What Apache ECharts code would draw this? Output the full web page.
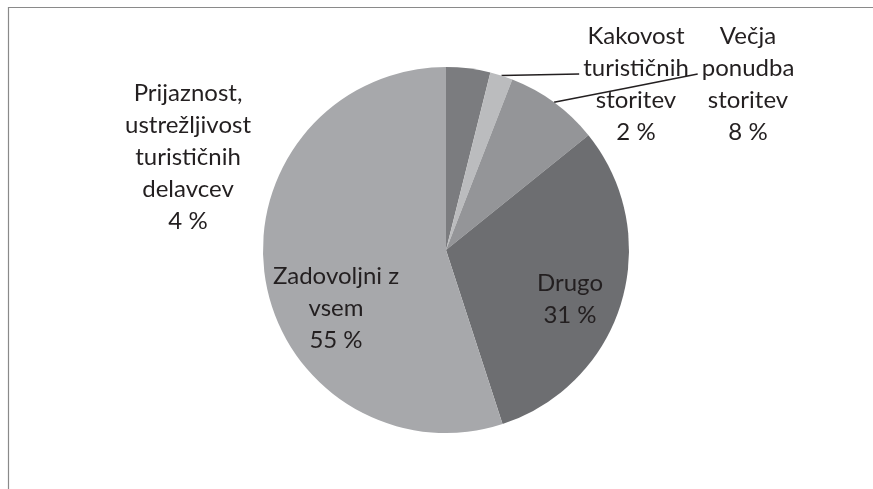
<!DOCTYPE html>
<html>
<head>
<meta charset="utf-8">
<script src="https://cdn.jsdelivr.net/npm/echarts@6/dist/echarts.min.js"></script>
<style>
  html, body { margin: 0; padding: 0; background: #fff; }
  #main { width: 873px; height: 489px; }
</style>
</head>
<body>
<div id="main"></div>
<script>
// podatki
const categories = [
    'Prijaznost,\nustrežljivost\nturističnih\ndelavcev',
    'Kakovost\nturističnih\nstoritev',
    'Večja\nponudba\nstoritev',
    'Drugo',
    'Zadovoljni z\nvsem'
];
const values = [3.9, 2.0, 8.3, 30.8, 55.0];
const colors = ['#7b7c7f', '#bbbcbe', '#949598', '#6d6e71', '#a7a8ab'];

// položaji oznak (središče besedila)
const labelPos = [[188, 157], [636, 84], [748, 84], [570, 299], [336, 308]];
const withLine = [false, true, true, false, false];

const myChart = echarts.init(document.getElementById('main'));

const options = {
    animation: false,
    backgroundColor: '#fff',
    graphic: [{
        type: 'rect',
        shape: { x: 8.5, y: 7.5, width: 900, height: 500 },
        style: { fill: 'none', stroke: '#8a8a8a', lineWidth: 1.2 },
        silent: true
    }],
    series: [{
        type: 'pie',
        center: [446, 250],
        radius: 183,
        startAngle: 90,
        clockwise: true,
        avoidLabelOverlap: false,
        itemStyle: { borderWidth: 0 },
        label: {
            show: true,
            position: 'outside',
            fontFamily: 'Lato',
            fontSize: 24,
            lineHeight: 32,
            color: '#231f20',
            align: 'center',
            formatter: function (p) {
                return p.name + '\n' + Math.round(p.percent) + ' %';
            }
        },
        labelLine: {
            show: true,
            length: 10,
            length2: 10,
            lineStyle: { color: '#231f20', width: 1.5 }
        },
        labelLayout: function (params) {
            const i = params.dataIndex;
            const pos = labelPos[i];
            const out = {
                x: pos[0],
                y: pos[1],
                align: 'center',
                verticalAlign: 'middle'
            };
            if (withLine[i] && params.labelLinePoints) {
                const p0 = params.labelLinePoints[0];
                const end = [pos[0] - params.labelRect.width / 2 - 4, pos[1] - 10];
                out.labelLinePoints = [p0, [(p0[0] + end[0]) / 2, (p0[1] + end[1]) / 2], end];
            }
            return out;
        },
        data: categories.map(function (name, i) {
            return {
                name: name,
                value: values[i],
                itemStyle: { color: colors[i] },
                labelLine: { show: withLine[i] }
            };
        })
    }]
};
myChart.setOption(options);
window.onresize = function () {
    myChart.resize();
};
</script>
</body>
</html>
